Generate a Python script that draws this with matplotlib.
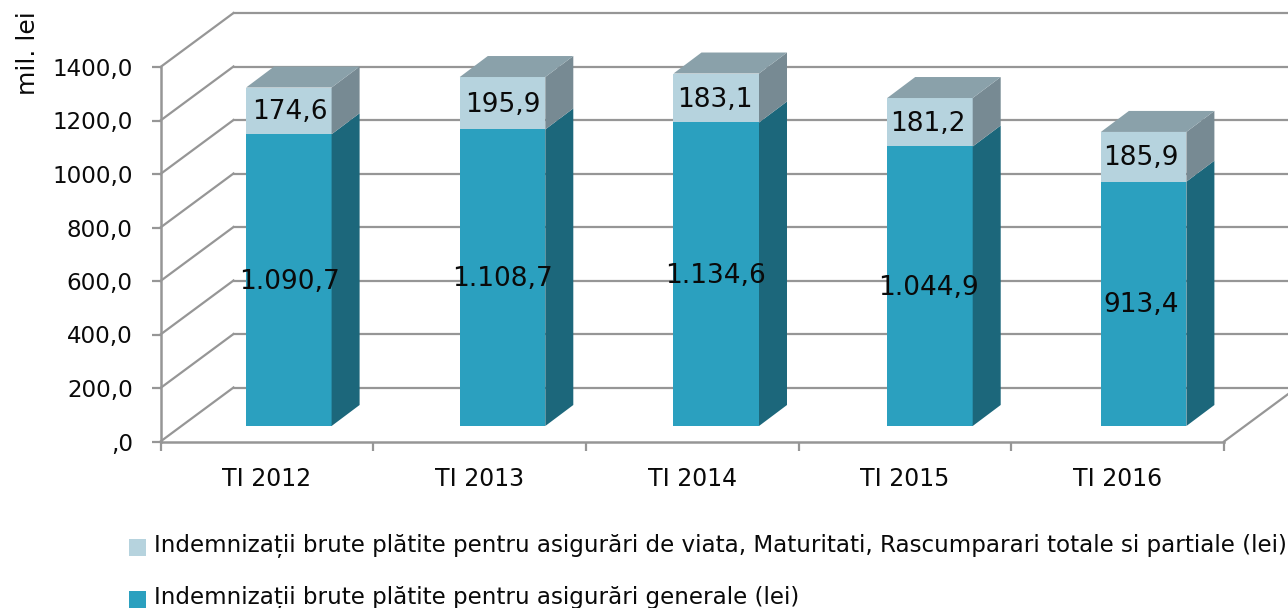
import matplotlib
matplotlib.use('Agg')
import matplotlib.pyplot as plt
from matplotlib.patches import Polygon, Rectangle

categories = ['TI 2012', 'TI 2013', 'TI 2014', 'TI 2015', 'TI 2016']
general = [1090.7, 1108.7, 1134.6, 1044.9, 913.4]
life = [174.6, 195.9, 183.1, 181.2, 185.9]
general_labels = ['1.090,7', '1.108,7', '1.134,6', '1.044,9', '913,4']
life_labels = ['174,6', '195,9', '183,1', '181,2', '185,9']
y_ticks = [0, 200, 400, 600, 800, 1000, 1200, 1400]
y_tick_labels = [',0', '200,0', '400,0', '600,0', '800,0', '1000,0', '1200,0', '1400,0']
legend_labels = [
    'Indemnizații brute plătite pentru asigurări de viata, Maturitati, Rascumparari totale si partiale (lei)',
    'Indemnizații brute plătite pentru asigurări generale (lei)',
]

W, H = 1288, 608
LEFT, RIGHT, BOTTOM, TOP = 160.5, 1224, 441.5, 67
GRID = '#969696'
TXT = '#0a0a0a'
FS = 16.6

plt.rcParams['font.family'] = ['DejaVu Sans']
fig = plt.figure(figsize=(W / 100, H / 100), dpi=100)
ax = fig.add_axes([LEFT / W, 1 - BOTTOM / H, (RIGHT - LEFT) / W, (BOTTOM - TOP) / H])
ax.set_xlim(0, len(categories))
ax.set_ylim(0, 1400)
ax.patch.set_visible(False)

# pixel offsets converted to data units
px_x = len(categories) / (RIGHT - LEFT)
px_y = 1400 / (BOTTOM - TOP)
wall_dx, wall_dy = 73 * px_x, 54 * px_y
bar_dx, bar_dy = 28 * px_x, 21 * px_y
front_dx, front_dy = 22 * px_x, 15.5 * px_y
bar_w = 85.5 * px_x
bar_step = 213.7 * px_x
label_dx, label_dy = 23.1 * px_x, 1.5 * px_y

# back wall and side wall grid
for t in y_ticks:
    ax.plot([0, wall_dx], [t, t + wall_dy], color=GRID, lw=1.6, clip_on=False, zorder=1)
    ax.plot([wall_dx, len(categories) + wall_dx], [t + wall_dy, t + wall_dy],
            color=GRID, lw=1.6, clip_on=False, zorder=1)
ax.plot([len(categories), len(categories) + wall_dx], [0, wall_dy], color=GRID, lw=1.6,
        clip_on=False, zorder=1)


def box(x, y0, y1, front, side, top=None):
    ax.add_patch(Rectangle((x, y0), bar_w, y1 - y0, facecolor=front, edgecolor='none',
                           clip_on=False, zorder=3))
    ax.add_patch(Polygon([(x + bar_w, y0), (x + bar_w + bar_dx, y0 + bar_dy),
                          (x + bar_w + bar_dx, y1 + bar_dy), (x + bar_w, y1)],
                         facecolor=side, edgecolor='none', clip_on=False, zorder=3))
    if top:
        ax.add_patch(Polygon([(x, y1), (x + bar_dx, y1 + bar_dy),
                              (x + bar_w + bar_dx, y1 + bar_dy), (x + bar_w, y1)],
                             facecolor=top, edgecolor='none', clip_on=False, zorder=3))


for i, cat in enumerate(categories):
    x = 0.5 - bar_w / 2 + front_dx + i * bar_step
    g, l = general[i], life[i]
    box(x, front_dy, front_dy + g, '#2ba0bf', '#1c677b')
    box(x, front_dy + g, front_dy + g + l, '#b6d3de', '#778a93', '#8aa1aa')
    # labels follow the category spacing, not the bars
    lx = i + 0.5 + label_dx
    ax.text(lx, front_dy + g / 2 - label_dy, general_labels[i], ha='center', va='center',
            fontsize=19, color=TXT, zorder=5, clip_on=False)
    ax.text(lx, front_dy + g + l / 2 - label_dy, life_labels[i], ha='center', va='center',
            fontsize=19, color=TXT, zorder=5, clip_on=False)

for s in ['top', 'right']:
    ax.spines[s].set_visible(False)
for s in ['left', 'bottom']:
    ax.spines[s].set_color(GRID)
    ax.spines[s].set_linewidth(1.8)
    ax.spines[s].set_zorder(2)

ax.set_yticks(y_ticks)
ax.set_yticklabels(y_tick_labels, fontsize=FS, color=TXT)
ax.set_xticks(range(len(categories) + 1))
ax.set_xticklabels([])
ax.set_xticks([i + 0.5 for i in range(len(categories))], minor=True)
ax.set_xticklabels(categories, minor=True, fontsize=17, color=TXT)
ax.tick_params(axis='x', which='minor', length=0, pad=18.5)
ax.tick_params(axis='both', which='major', color=GRID, width=1.6, length=6.5)
ax.tick_params(axis='y', pad=13.5)

fig.text(28 / W, 1 - 53 / H, 'mil. lei', rotation=90, fontsize=18, color=TXT,
         ha='center', va='center')

# legend
for label, color, y, y_box in zip(legend_labels, ['#b6d3de', '#2ba0bf'], [546, 597.5], [547, 599.5]):
    fig.patches.append(Rectangle((129 / W, 1 - (y_box + 8.5) / H), 17 / W, 17 / H,
                                 transform=fig.transFigure, facecolor=color, edgecolor='none'))
    fig.text(154 / W, 1 - y / H, label, fontsize=FS, color=TXT, ha='left', va='center')

fig.savefig('out.png', dpi=100)
